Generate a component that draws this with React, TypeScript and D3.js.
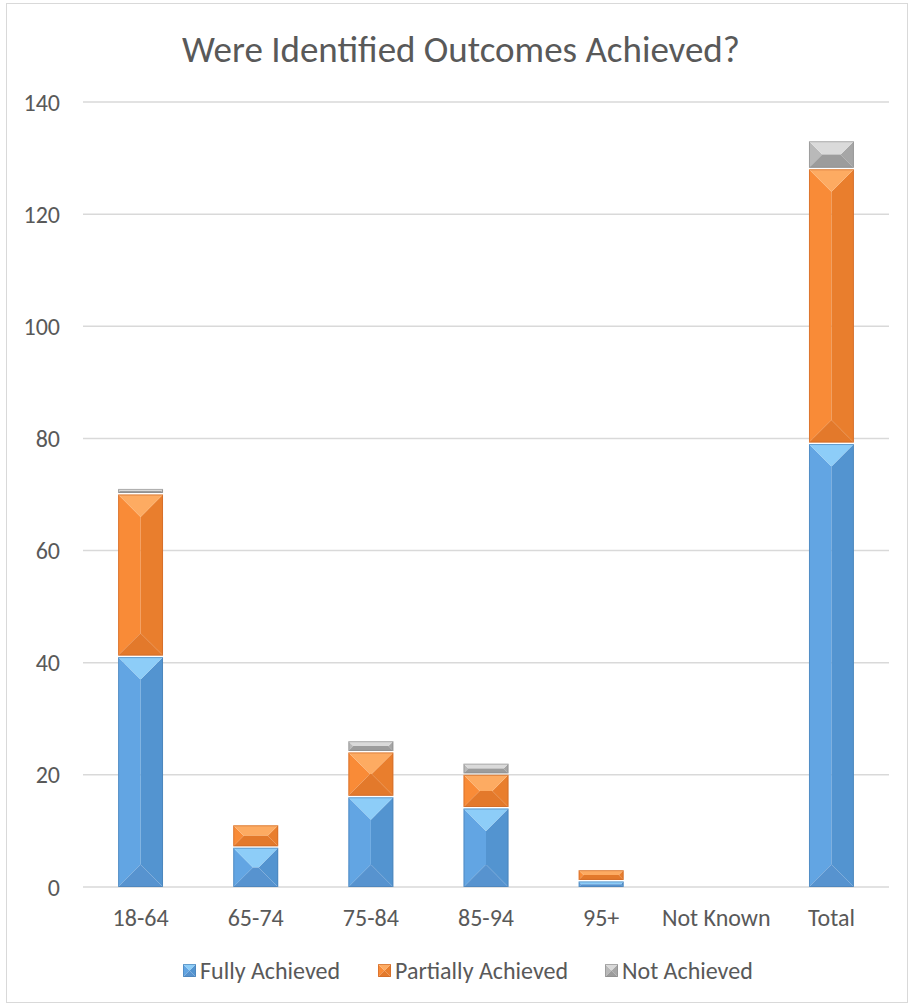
import React from "react";
import * as d3 from "d3";

const categories = ["18-64", "65-74", "75-84", "85-94", "95+", "Not Known", "Total"];
const fullyAchieved = [41, 7, 16, 14, 1, 0, 79];
const partiallyAchieved = [29, 4, 8, 6, 2, 0, 49];
const notAchieved = [1, 0, 2, 2, 0, 0, 5];
const seriesNames = ["Fully Achieved", "Partially Achieved", "Not Achieved"];
const yTicks = [0, 20, 40, 60, 80, 100, 120, 140];

type Shades = { top: string; left: string; right: string; bottom: string; edge: string };
const palette: Shades[] = [
  { top: "#8dcdf8", left: "#62a5e3", right: "#5394d0", bottom: "#5793cf", edge: "#4a7fb3" },
  { top: "#fdab62", left: "#f98b37", right: "#e97e2d", bottom: "#e3792b", edge: "#c9682a" },
  { top: "#dadada", left: "#b9b9b9", right: "#a6a6a6", bottom: "#9c9c9c", edge: "#8a8a8a" },
];

const W = 910;
const H = 1006;
const plot = { left: 83, right: 889, top: 102, bottom: 887 };
const FONT = "Carlito, Calibri, Lato, sans-serif";
const TEXT = "#595959";

// Stacked segment drawn as a bevelled block: four faces meeting at the centre line.
function bevel(x0: number, y0: number, w: number, h: number, c: Shades, key: string) {
  const x1 = x0 + w;
  const y1 = y0 + h;
  const d = Math.min(w / 2, h / 2);
  const cx = x0 + w / 2;
  const pts = (a: number[][]) => a.map((p) => p.join(",")).join(" ");
  return (
    <g key={key}>
      <polygon
        points={pts([[x0, y0], [x0 + d, y0 + d], [cx, y0 + d], [cx, y1 - d], [x0 + d, y1 - d], [x0, y1]])}
        fill={c.left}
      />
      <polygon
        points={pts([[x1, y0], [x1 - d, y0 + d], [cx, y0 + d], [cx, y1 - d], [x1 - d, y1 - d], [x1, y1]])}
        fill={c.right}
      />
      <polygon points={pts([[x0, y0], [x1, y0], [x1 - d, y0 + d], [x0 + d, y0 + d]])} fill={c.top} />
      <polygon points={pts([[x0, y1], [x1, y1], [x1 - d, y1 - d], [x0 + d, y1 - d]])} fill={c.bottom} />
      <rect x={x0 + 0.5} y={y0 + 0.5} width={Math.max(0, w - 1)} height={Math.max(0, h - 1)} fill="none" stroke={c.edge} strokeOpacity={0.6} strokeWidth={1} />
    </g>
  );
}

export default function App() {
  const x = d3.scaleBand<string>().domain(categories).range([plot.left, plot.right]).paddingInner(0.61).paddingOuter(0.305);
  const y = d3.scaleLinear().domain([0, 140]).range([plot.bottom, plot.top]);

  const rows = categories.map((c, i) => ({
    cat: c,
    "Fully Achieved": fullyAchieved[i],
    "Partially Achieved": partiallyAchieved[i],
    "Not Achieved": notAchieved[i],
  }));
  const stacked = d3.stack<any>().keys(seriesNames)(rows);

  const legendItems = [
    { name: seriesNames[0], sx: 183, tx: 200 },
    { name: seriesNames[1], sx: 378, tx: 395 },
    { name: seriesNames[2], sx: 605, tx: 622 },
  ];

  return (
    <svg width={W} height={H} style={{ position: "absolute", left: 0, top: 0, background: "#fff" }} fontFamily={FONT}>
      <rect x={6.5} y={3.5} width={901} height={999} fill="#fff" stroke="#d9d9d9" strokeWidth={1} />
      <text x={461} y={62} textAnchor="middle" fontSize={37} fill={TEXT}>
        Were Identified Outcomes Achieved?
      </text>
      {yTicks.map((t) => (
        <g key={t}>
          <line x1={plot.left} x2={plot.right} y1={y(t)} y2={y(t)} stroke="#d9d9d9" strokeWidth={1.5} />
          <text x={60} y={y(t) + 8.5} textAnchor="end" fontSize={24} fill={TEXT}>
            {t}
          </text>
        </g>
      ))}
      {stacked.map((layer, si) =>
        layer.map((seg, ci) => {
          const v0 = seg[0];
          const v1 = seg[1];
          if (v1 - v0 <= 0) return null;
          const top = y(v1);
          const bot = y(v0);
          const gap = v0 > 0 ? 1.5 : 0;
          return bevel(x(categories[ci])!, top, x.bandwidth(), bot - top - gap, palette[si], `${si}-${ci}`);
        })
      )}
      {categories.map((c) => (
        <text key={c} x={x(c)! + x.bandwidth() / 2} y={926} textAnchor="middle" fontSize={24} fill={TEXT}>
          {c}
        </text>
      ))}
      {legendItems.map((it, i) => (
        <g key={it.name}>
          {bevel(it.sx, 964, 13, 13, palette[i], `lg-${i}`)}
          <text x={it.tx} y={979} fontSize={24} fill={TEXT}>
            {it.name}
          </text>
        </g>
      ))}
    </svg>
  );
}
